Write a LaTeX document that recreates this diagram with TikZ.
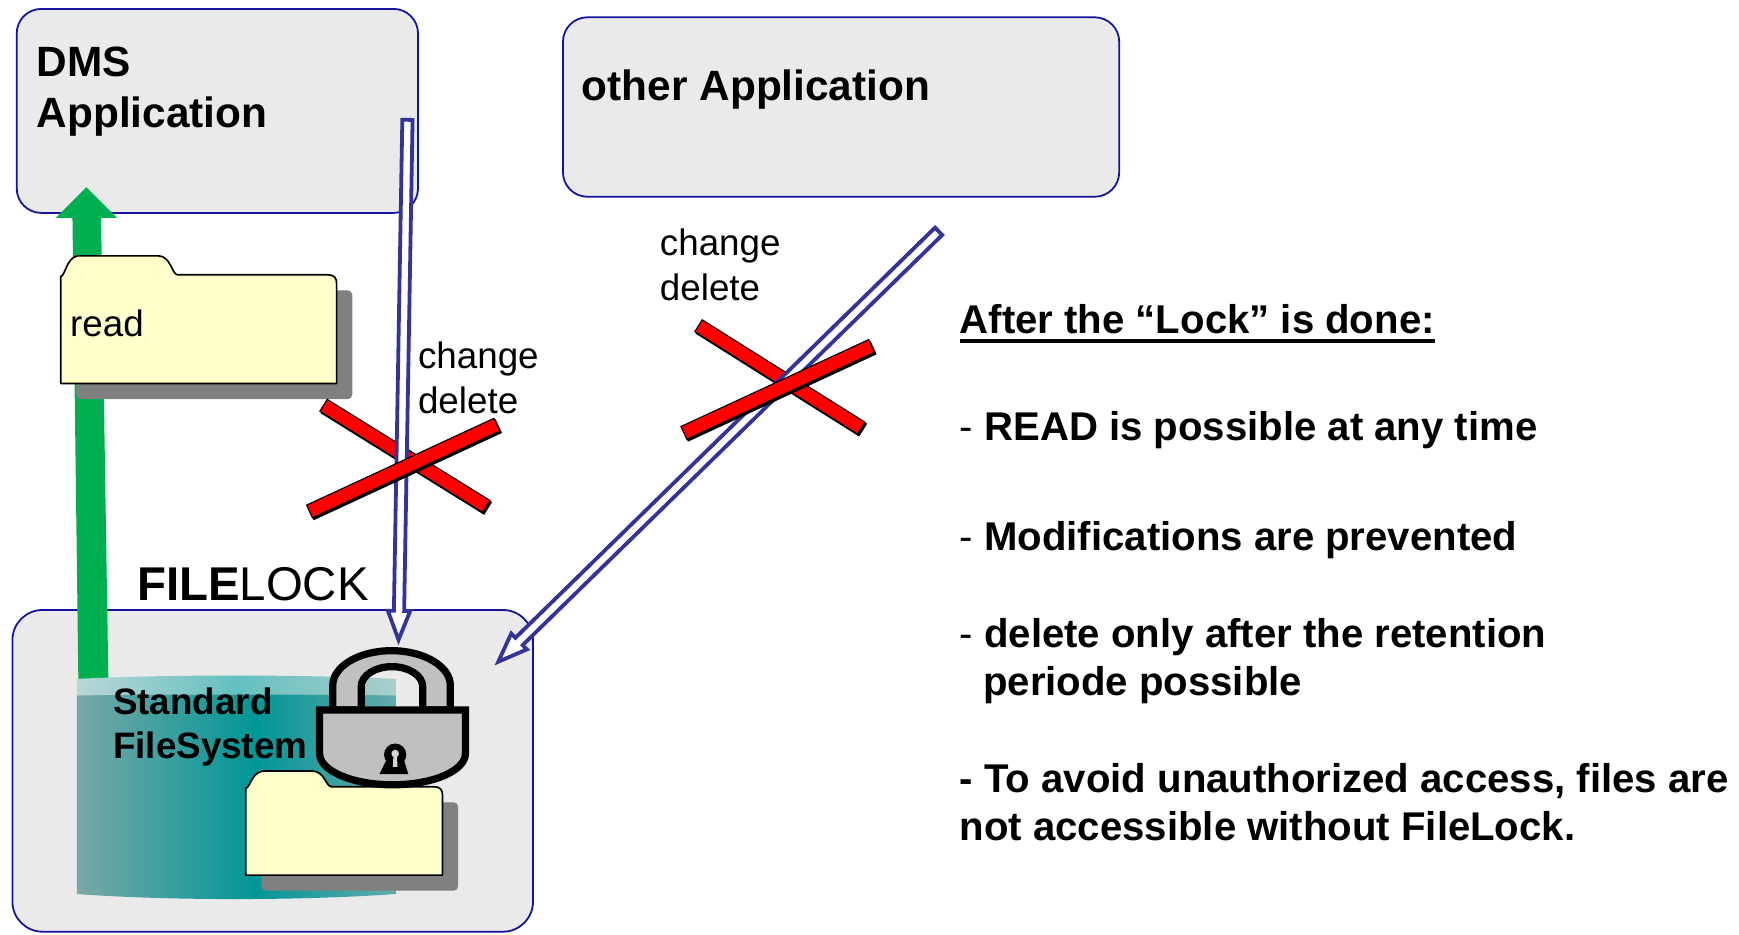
\documentclass[tikz,border=0pt]{standalone}
\usepackage{fontspec}
\setmainfont{Liberation Sans}
\usetikzlibrary{calc}
\definecolor{boxgray}{RGB}{234,234,234}
\definecolor{boxblue}{RGB}{20,20,160}
\definecolor{arrowblue}{RGB}{51,51,153}
\definecolor{dmsgreen}{RGB}{0,176,80}
\definecolor{folderyellow}{RGB}{255,255,204}
\definecolor{shadowgray}{RGB}{128,128,128}
\definecolor{lockgray}{RGB}{192,192,192}
\definecolor{slotgray}{RGB}{215,215,215}
\definecolor{fsL}{RGB}{122,168,168}
\definecolor{fsM}{RGB}{0,150,150}
\definecolor{fsR}{RGB}{100,170,170}
\definecolor{fsTL}{RGB}{185,214,214}
\definecolor{fsTM}{RGB}{100,192,192}
\definecolor{fsTR}{RGB}{170,205,205}
\pgfdeclarehorizontalshading{fsbody}{100bp}{color(0bp)=(fsL); color(25bp)=(fsL); color(53bp)=(fsM); color(75bp)=(fsR); color(100bp)=(fsR)}
\pgfdeclarehorizontalshading{fstop}{100bp}{color(0bp)=(fsTL); color(25bp)=(fsTL); color(50bp)=(fsTM); color(75bp)=(fsTR); color(100bp)=(fsTR)}
\tikzset{
  appbox/.style={draw=boxblue, fill=boxgray, line width=1.6pt, rounded corners=22pt, inner sep=0pt},
  harrow/.style={draw=arrowblue, fill=white, line width=3.4pt, line join=miter, miter limit=10},
  folderstyle/.style={draw=black, fill=folderyellow, line width=1.5pt, line join=round},
  txt/.style={anchor=base west, inner sep=0pt, outer sep=0pt, text=black},
  bigbold/.style={txt, font=\fontsize{38}{45}\selectfont\bfseries},
  midreg/.style={txt, font=\fontsize{33}{40}\selectfont},
  midbold/.style={txt, font=\fontsize{33}{40}\selectfont\bfseries},
  note/.style={txt, font=\fontsize{36}{43}\selectfont\bfseries},
  lockline/.style={draw=black, fill=lockgray, line width=6.5pt, line join=miter}
}
\newcommand\hollowarrow[2]{%
  \coordinate (#1-h) at ($(#2)!26pt!(#1)$);
  \draw[harrow] ($(#1)!4.6pt!90:(#2)$) -- ($(#1-h)!4.6pt!-90:(#1)$) -- ($(#1-h)!10pt!-90:(#1)$) -- (#2) -- ($(#1-h)!10pt!90:(#1)$) -- ($(#1-h)!4.6pt!90:(#1)$) -- ($(#1)!4.6pt!-90:(#2)$) -- cycle;}
\newcommand\redbar[2]{%
  \draw[line width=13.5pt, black] ($(#1)+(1.3,1.6)$) -- ($(#2)+(1.3,1.6)$);
  \draw[line width=13.5pt, black] (#1) -- (#2);
  \draw[line width=11.3pt, red, shorten <=1.1pt, shorten >=1.1pt] (#1) -- (#2);}
\newcommand\folder[6]{% L R T B D E
  \fill[shadowgray, rounded corners=4pt] ({#1+14},{#4+14}) rectangle ({#2+14},{#5+14});
  \draw[folderstyle] ({#1},{#5}) -- ({#1},{#4+1.5}) .. controls ({#1+4},{#4+1}) and ({#1+5},{#3+2}) .. ({#1+15},{#3}) -- ({#6-16},{#3}) .. controls ({#6-5},{#3}) and ({#6-4},{#4-1}) .. ({#6+1},{#4}) -- ({#2-8},{#4}) .. controls ({#2-2},{#4}) and ({#2},{#4+3}) .. ({#2},{#4+8}) -- ({#2},{#5}) -- cycle;}
\begin{document}
\begin{tikzpicture}[x=1pt,y=-1pt]
\useasboundingbox (0,0) rectangle (1560,838);
\fill[white] (0,0) rectangle (1560,838);

% boxes
\node[appbox, minimum width=360pt, minimum height=183pt] (dms) at (195,99.5) {};
\node[appbox, minimum width=499pt, minimum height=161pt] (other) at (754.5,96) {};
\node[appbox, rounded corners=27pt, minimum width=467pt, minimum height=288.6pt] (flbox) at (244.65,691.5) {};

% green read arrow
\fill[dmsgreen] (70.3,611) -- (65,195.4) -- (50,195.4) -- (77.5,167.9) -- (105,195.4) -- (90.7,195.4) -- (97.2,611) -- cycle;

% read folder
\folder{54.5}{302}{229.5}{246.5}{344}{158}
\node[midreg] (read) at (63,302) {read};

% standard file system
\shade[shading=fsbody] (69,623) -- (69,802) .. controls (150,808) and (270,808) .. (355,802) -- (355,623) -- cycle;
\shade[shading=fstop] (69,609) .. controls (150,605) and (270,605) .. (355,609) -- (355,624) .. controls (270,622) and (150,622) .. (69,624) -- cycle;
\node[midbold] (fs1) at (101.5,640.5) {Standard};
\node[midbold] (fs2) at (101.5,680.3) {FileSystem};

% locked folder
\folder{220.4}{397}{691.7}{705.7}{785}{296}

% padlock
\draw[lockline] (298.5,637) -- (298.5,615) arc[start angle=180, end angle=360, x radius=52.75, y radius=31.3] -- (404,637) -- (379.2,637) -- (379.2,616) arc[start angle=0, end angle=-180, x radius=27.6, y radius=18] -- (324,637) -- cycle;
\draw[lockline] (286.7,637) -- (417.5,637) -- (417.5,676) arc[start angle=0, end angle=180, x radius=65.4, y radius=28] -- cycle;
\fill[black] (354.5,677) circle[radius=10];
\fill[black] (347.5,680) -- (361.8,680) -- (366.3,694.5) -- (340.3,694.5) -- cycle;
\fill[slotgray] (354.5,676) circle[radius=3.4];
\fill[slotgray] (353,677) -- (356,677) -- (356.6,688) -- (352.4,688) -- cycle;

% texts
\node[bigbold] (dms1) at (33,69) {DMS};
\node[bigbold] (dms2) at (33,114) {Application};
\node[bigbold] (oth) at (522,90.5) {other Application};
\node[txt, font=\fontsize{42.5}{50}\selectfont] (fl) at (123,539) {{\bfseries FILE}LOCK};
\node[midreg] (chg1) at (375,331) {change};
\node[midreg] (del1) at (375,371) {delete};
\node[midreg] (chg2) at (592,229) {change};
\node[midreg] (del2) at (592,269.5) {delete};

% crosses and hollow arrows
\coordinate (xa1) at (289.8,363.3); \coordinate (xa2) at (436.6,454.5);
\coordinate (xb1) at (277.2,459);   \coordinate (xb2) at (446.2,380.7);
\coordinate (ya1) at (626.2,291.9); \coordinate (ya2) at (773,384.3);
\coordinate (yb1) at (613,388.5);   \coordinate (yb2) at (782.3,310.1);
\redbar{xa1}{xa2}
\redbar{ya1}{ya2}
\coordinate (dmsout) at (365.5,107.5);
\coordinate (locktop) at (357.5,574);
\coordinate (otherout) at (842,207.5);
\coordinate (flright) at (447,593.6);
\hollowarrow{dmsout}{locktop}
\hollowarrow{otherout}{flright}
\redbar{xb1}{xb2}
\redbar{yb1}{yb2}

% notes
\node[note] (after) at (861,299) {After the “Lock” is done:};
\draw[line width=3pt] ($(after.base west)+(0,6.8)$) -- ($(after.base east)+(0,6.8)$);
\node[note] (n1) at (861,395) {{\mdseries -} READ is possible at any time};
\node[note] (n2) at (861,494) {{\mdseries -} Modifications are prevented};
\node[note] (n3) at (861,581) {{\mdseries -} delete only after the retention};
\node[note] (n3b) at (882,624) {periode possible};
\node[note] (n4) at (861,711) {- To avoid unauthorized access, files are};
\node[note] (n4b) at (861,754) {not accessible without FileLock.};
\end{tikzpicture}
\end{document}
